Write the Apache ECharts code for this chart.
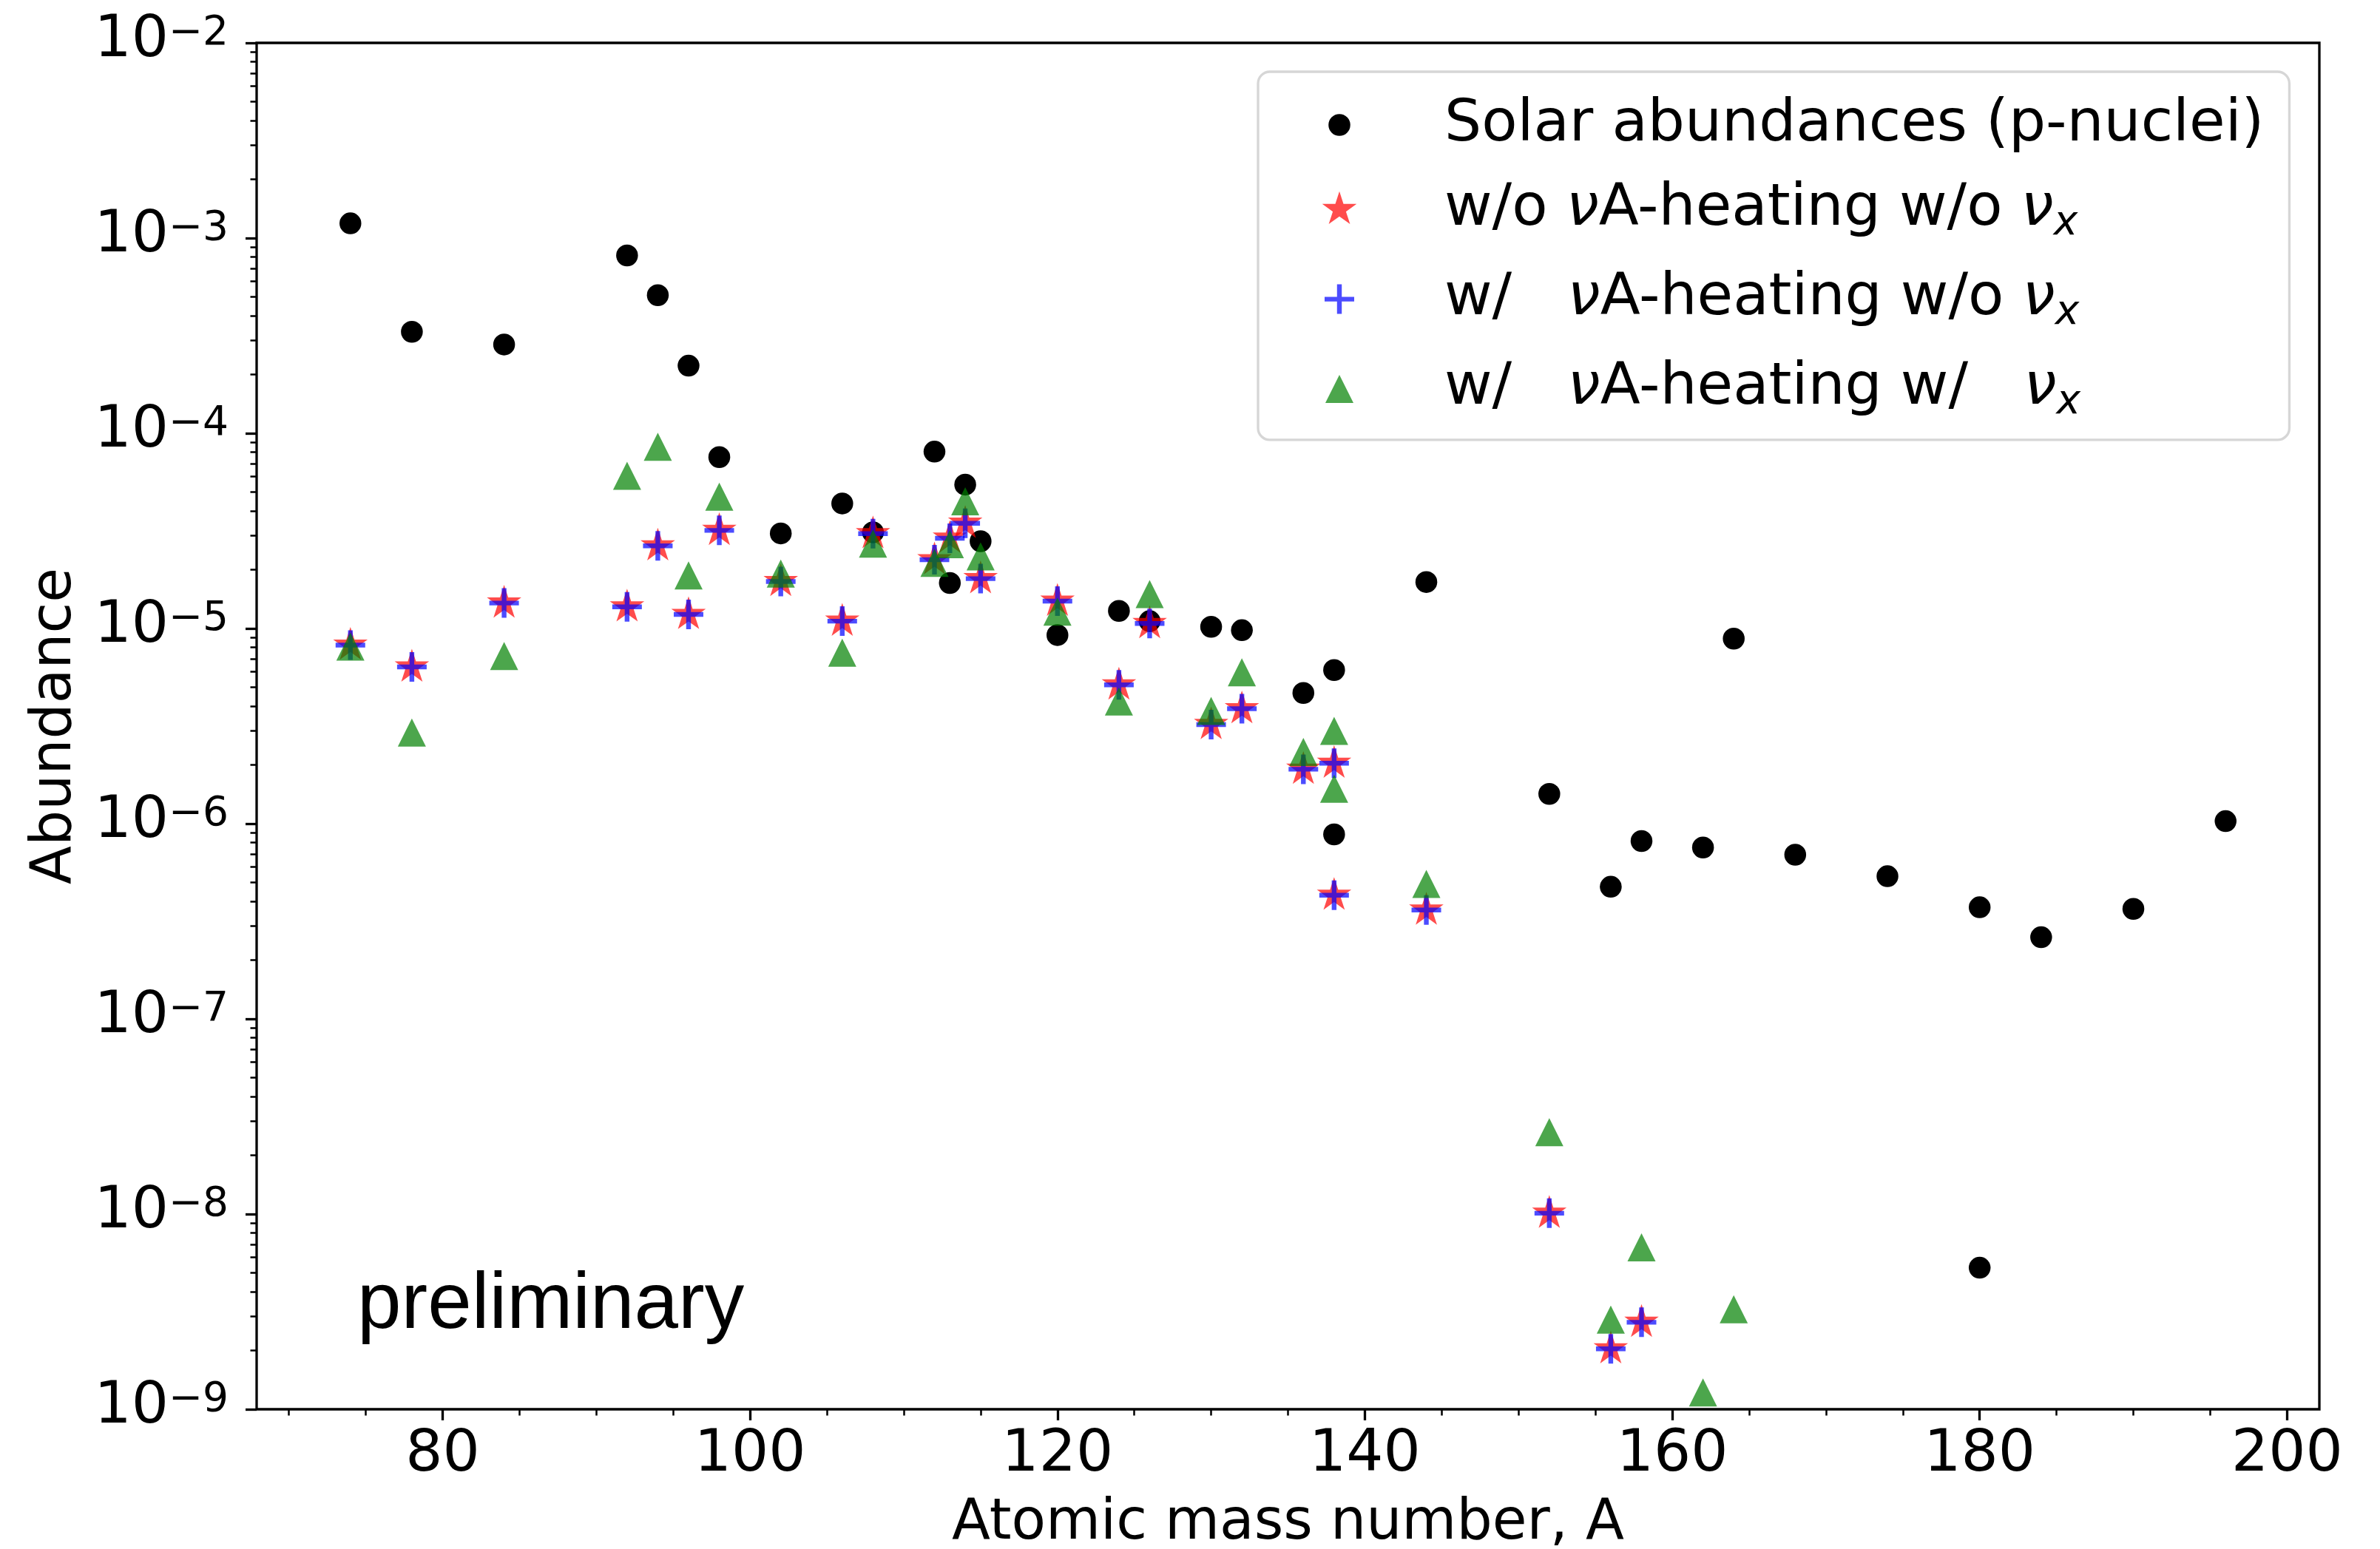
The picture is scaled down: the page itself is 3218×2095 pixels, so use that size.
<!DOCTYPE html>
<html>
<head>
<meta charset="utf-8">
<script src="https://cdn.jsdelivr.net/npm/echarts@6.0.0/dist/echarts.min.js"></script>
<style>
  html, body { margin: 0; padding: 0; background: #ffffff; }
  #chart { width: 3218px; height: 2095px; }
</style>
</head>
<body>
<div id="chart"></div>
<script>
// Solar p-nuclei abundances
const solarA = [74, 78, 84, 92, 94, 96, 98, 102, 106, 108, 112, 113, 114, 115, 120, 124, 126, 130, 132,
  136, 138, 138, 144, 152, 156, 158, 162, 164, 168, 174, 180, 180, 184, 190, 196];
const solarY = [1.19e-3, 3.31e-4, 2.85e-4, 8.15e-4, 5.1e-4, 2.22e-4, 7.55e-5, 3.07e-5, 4.37e-5, 3.11e-5,
  8.05e-5, 1.71e-5, 5.46e-5, 2.80e-5, 9.25e-6, 1.23e-5, 1.09e-5, 1.02e-5, 9.8e-6,
  4.67e-6, 6.12e-6, 8.81e-7, 1.73e-5, 1.42e-6, 4.75e-7, 8.15e-7, 7.55e-7, 8.87e-6, 6.93e-7,
  5.38e-7, 3.73e-7, 5.31e-9, 2.62e-7, 3.66e-7, 1.03e-6];

// Model without nuA heating and without nu_x
const noHeatA = [74, 78, 84, 92, 94, 96, 98, 102, 106, 108, 112, 113, 114, 115, 120, 124, 126, 130, 132,
  136, 138, 138, 144, 152, 156, 158, 164];
const noHeatY = [8.22e-6, 6.35e-6, 1.35e-5, 1.29e-5, 2.65e-5, 1.18e-5, 3.18e-5, 1.74e-5, 1.09e-5, 3.06e-5,
  2.25e-5, 2.9e-5, 3.46e-5, 1.8e-5, 1.38e-5, 5.14e-6, 1.06e-5, 3.22e-6, 3.88e-6,
  1.9e-6, 2.04e-6, 4.3e-7, 3.61e-7, 1.01e-8, 2.04e-9, 2.79e-9, 9.0e-10];

// Model with nuA heating, without nu_x
const heatA = [74, 78, 84, 92, 94, 96, 98, 102, 106, 108, 112, 113, 114, 115, 120, 124, 126, 130, 132,
  136, 138, 138, 144, 152, 156, 158];
const heatY = [8.22e-6, 6.35e-6, 1.35e-5, 1.29e-5, 2.65e-5, 1.18e-5, 3.18e-5, 1.74e-5, 1.09e-5, 3.06e-5,
  2.25e-5, 2.9e-5, 3.46e-5, 1.8e-5, 1.38e-5, 5.14e-6, 1.06e-5, 3.22e-6, 3.88e-6,
  1.9e-6, 2.04e-6, 4.3e-7, 3.61e-7, 1.01e-8, 2.04e-9, 2.79e-9];

// Model with nuA heating and with nu_x
const heatNuxA = [74, 78, 84, 92, 94, 96, 98, 102, 106, 108, 112, 113, 114, 115, 120, 124, 126, 130, 132,
  136, 138, 138, 144, 152, 156, 158, 162, 164];
const heatNuxY = [8.07e-6, 2.93e-6, 7.22e-6, 6.05e-5, 8.53e-5, 1.87e-5, 4.73e-5, 1.91e-5, 7.51e-6, 2.72e-5,
  2.17e-5, 2.7e-5, 4.48e-5, 2.34e-5, 1.22e-5, 4.23e-6, 1.50e-5, 3.78e-6, 5.96e-6,
  2.33e-6, 2.99e-6, 1.51e-6, 4.91e-7, 2.63e-8, 2.88e-9, 6.76e-9, 1.22e-9, 3.25e-9];

// Axis ticks
const xMajorTicks = [80, 100, 120, 140, 160, 180, 200];
const xMinorTicks = [70, 75, 85, 90, 95, 105, 110, 115, 125, 130, 135, 145, 150, 155, 165, 170, 175, 185, 190, 195];
const yDecades = [-9, -8, -7, -6, -5, -4, -3, -2];

const seriesNames = [
  'Solar abundances (p-nuclei)',
  'w/o \u03bdA-heating w/o \u03bdx',
  'w/   \u03bdA-heating w/o \u03bdx',
  'w/   \u03bdA-heating w/   \u03bdx'
];

const FONT = 'DejaVu Sans';

// log-spaced minor ticks (2..9 within every decade)
const yMinorTicks = [];
for (let i = 0; i < yDecades.length - 1; i++) {
  for (let k = 2; k <= 9; k++) yMinorTicks.push(yDecades[i] + Math.log10(k));
}

// ---- marker outlines ----
function circlePath(cx, cy, r) {
  return 'M' + (cx + r) + ' ' + cy + 'A' + r + ' ' + r + ' 0 1 1 ' + (cx - r) + ' ' + cy +
         'A' + r + ' ' + r + ' 0 1 1 ' + (cx + r) + ' ' + cy + 'Z';
}
function starPath(cx, cy, R) {
  const ri = R * 0.381966;
  let d = '';
  for (let i = 0; i < 10; i++) {
    const ang = Math.PI / 2 + i * Math.PI / 5;
    const r = i % 2 === 0 ? R : ri;
    d += (i === 0 ? 'M' : 'L') + (cx + r * Math.cos(ang)).toFixed(2) + ' ' + (cy - r * Math.sin(ang)).toFixed(2);
  }
  return d + 'Z';
}
function plusPath(cx, cy, h, t) {
  const p = [[cx - t, cy - h], [cx + t, cy - h], [cx + t, cy - t], [cx + h, cy - t], [cx + h, cy + t],
             [cx + t, cy + t], [cx + t, cy + h], [cx - t, cy + h], [cx - t, cy + t], [cx - h, cy + t],
             [cx - h, cy - t], [cx - t, cy - t]];
  return p.map((q, i) => (i === 0 ? 'M' : 'L') + q[0] + ' ' + q[1]).join('') + 'Z';
}
function trianglePath(cx, cy, h) {
  return 'M' + cx + ' ' + (cy - h) + 'L' + (cx + h) + ' ' + (cy + h) + 'L' + (cx - h) + ' ' + (cy + h) + 'Z';
}
const shapes = [
  (cx, cy) => circlePath(cx, cy, 14.75),
  (cx, cy) => starPath(cx, cy, 24.5),
  (cx, cy) => plusPath(cx, cy, 20, 3.2),
  (cx, cy) => trianglePath(cx, cy, 19)
];
// a fixed box (two bare move-to points) keeps every marker at its own scale
function boxed(w, h, body) { return 'path://M0 0M' + w + ' ' + h + body; }
const SYM = 50;
const plotSymbols = shapes.map(f => boxed(SYM, SYM, f(SYM / 2, SYM / 2)));
const ICON_W = 215;
const legendIcons = shapes.map(f => boxed(ICON_W, SYM, f(78, SYM / 2)));

const legendRich = {};
legendRich[seriesNames[0]] = '{t|Solar abundances (p-nuclei)}';
legendRich[seriesNames[1]] = '{t|w/o }{n|\u03bd}{t|A-heating w/o }{n|\u03bd}{s|x}';
legendRich[seriesNames[2]] = '{t|w/   }{n|\u03bd}{t|A-heating w/o }{n|\u03bd}{s|x}';
legendRich[seriesNames[3]] = '{t|w/   }{n|\u03bd}{t|A-heating w/   }{n|\u03bd}{s|x}';

function pairs(xs, ys) { return xs.map((x, i) => [x, ys[i]]); }

const colors = ['#000000', '#ff0000', '#0000ff', '#008000'];
const opacities = [1, 0.7, 0.7, 0.7];
const dataSets = [pairs(solarA, solarY), pairs(noHeatA, noHeatY), pairs(heatA, heatY), pairs(heatNuxA, heatNuxY)];

const chart = echarts.init(document.getElementById('chart'), null, { renderer: 'canvas' });

const option = {
  animation: false,
  backgroundColor: '#ffffff',
  textStyle: { fontFamily: FONT },
  grid: {
    left: 347, right: 82, top: 58, bottom: 189,
    containLabel: false, outerBoundsMode: 'none',
    show: true, borderColor: '#000000', borderWidth: 3.3, backgroundColor: 'transparent'
  },
  xAxis: [
    {
      type: 'value', min: 67.9, max: 202.1, position: 'bottom',
      axisLine: { show: false },
      splitLine: { show: false },
      axisTick: { show: true, length: 15, lineStyle: { color: '#000', width: 3.3 }, customValues: xMajorTicks },
      axisLabel: {
        customValues: xMajorTicks, formatter: v => String(v),
        fontFamily: FONT, fontSize: 79, lineHeight: 79, color: '#000', margin: 23,
        showMinLabel: true, showMaxLabel: true
      },
      name: 'Atomic mass number, A', nameLocation: 'middle', nameGap: 117,
      nameTextStyle: { fontFamily: FONT, fontSize: 76, lineHeight: 76, color: '#000' }
    },
    {
      type: 'value', min: 67.9, max: 202.1, position: 'bottom',
      axisLine: { show: false }, splitLine: { show: false }, axisLabel: { show: false },
      axisTick: { show: true, length: 8.5, lineStyle: { color: '#000', width: 2.5 }, customValues: xMinorTicks }
    }
  ],
  yAxis: [
    {
      type: 'log', logBase: 10, min: 1e-9, max: 1e-2, position: 'left',
      axisLine: { show: false },
      splitLine: { show: false },
      minorTick: { show: false },
      axisTick: { show: true, length: 15, lineStyle: { color: '#000', width: 3.3 } },
      axisLabel: {
        margin: 38, showMinLabel: true, showMaxLabel: true,
        formatter: v => '{m|10}{e|\u2212' + Math.abs(Math.round(Math.log10(v))) + '}',
        rich: {
          m: { fontFamily: FONT, fontSize: 79, lineHeight: 79, color: '#000', verticalAlign: 'bottom', padding: [0, 0, 3, 0] },
          e: { fontFamily: FONT, fontSize: 55, lineHeight: 55, color: '#000', verticalAlign: 'top', padding: [0, 0, 39, 0] }
        }
      },
      name: 'Abundance', nameLocation: 'middle', nameGap: 234,
      nameTextStyle: { fontFamily: FONT, fontSize: 76, lineHeight: 76, color: '#000' }
    },
    {
      type: 'value', min: yDecades[0], max: yDecades[yDecades.length - 1], position: 'left',
      axisLine: { show: false }, splitLine: { show: false }, axisLabel: { show: false },
      axisTick: { show: true, length: 8.5, lineStyle: { color: '#000', width: 2.5 }, customValues: yMinorTicks }
    }
  ],
  legend: {
    orient: 'vertical', left: 1701, top: 97,
    padding: [32.5, 34, 22.5, 32], itemGap: 35.3,
    itemWidth: ICON_W, itemHeight: SYM, selectedMode: false,
    backgroundColor: 'rgba(255,255,255,0.8)', borderColor: '#d6d6d6', borderWidth: 3.3, borderRadius: 16,
    data: seriesNames.map((n, i) => ({ name: n, icon: legendIcons[i] })),
    formatter: n => legendRich[n],
    textStyle: {
      fontFamily: FONT, fontSize: 79, color: '#000',
      rich: {
        t: { fontFamily: FONT, fontSize: 79, lineHeight: 93, color: '#000' },
        n: { fontFamily: FONT, fontSize: 79, lineHeight: 93, color: '#000', fontStyle: 'italic' },
        s: { fontFamily: FONT, fontSize: 55, lineHeight: 55, color: '#000', fontStyle: 'italic', verticalAlign: 'bottom' }
      }
    }
  },
  graphic: [
    {
      type: 'text', x: 483, y: 1766, z: 100,
      style: { text: 'preliminary', font: '107px "Liberation Sans"', fill: '#000', align: 'left', verticalAlign: 'middle' }
    }
  ],
  series: dataSets.map((d, i) => ({
    type: 'scatter',
    name: seriesNames[i],
    xAxisIndex: 0, yAxisIndex: 0,
    data: d,
    symbol: plotSymbols[i],
    symbolSize: [SYM, SYM],
    itemStyle: { color: colors[i], opacity: opacities[i] },
    emphasis: { disabled: true },
    clip: true
  }))
};

chart.setOption(option);
</script>
</body>
</html>
